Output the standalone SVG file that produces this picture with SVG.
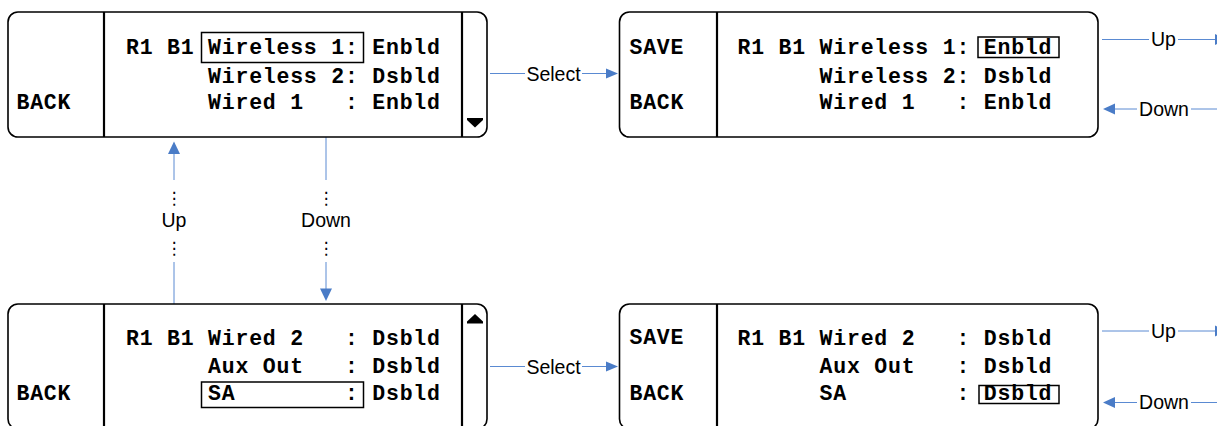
<svg xmlns="http://www.w3.org/2000/svg" width="1217" height="426" viewBox="0 0 1217 426" xml:space="preserve">
<style>
.box{fill:#fff;stroke:#000;stroke-width:1.6}
.div{stroke:#000;stroke-width:2.2}
.mono{font-family:"Courier New","Liberation Mono",monospace;font-weight:bold;font-size:21.5px;letter-spacing:0.78px;fill:#000;white-space:pre}
.hl{fill:none;stroke:#000;stroke-width:1.5}
.ln{stroke:#5a8ad2;stroke-width:1;fill:none}
.hd{fill:#4a7cc7}
.lbl{font-family:"Liberation Sans",Arial,sans-serif;font-size:19.5px;fill:#000;text-anchor:middle}
.dots{font-family:"DejaVu Sans",sans-serif;font-size:17px;fill:#000;text-anchor:middle}
.bg{fill:#fff}
</style>

<g id="connectors">
  <!-- Select top -->
  <line class="ln" x1="490" y1="73.5" x2="606" y2="73.5"/>
  <polygon class="hd" points="606,68.5 618,73.5 606,78.5"/>
  <rect class="bg" x="525" y="62" width="57" height="22"/>
  <text class="lbl" x="553.5" y="80.5">Select</text>
  <!-- Select bottom -->
  <line class="ln" x1="490" y1="366.5" x2="606" y2="366.5"/>
  <polygon class="hd" points="606,361.5 618,366.5 606,371.5"/>
  <rect class="bg" x="525" y="355" width="57" height="22"/>
  <text class="lbl" x="553.5" y="373.5">Select</text>
  <!-- Up vertical -->
  <line class="ln" x1="174" y1="304" x2="174" y2="262"/>
  <line class="ln" x1="174" y1="180" x2="174" y2="153"/>
  <polygon class="hd" points="174,141.5 168,154 180,154"/>
  <text class="dots" x="174" y="204">⋮</text>
  <text class="lbl" x="174" y="227">Up</text>
  <text class="dots" x="174" y="254">⋮</text>
  <!-- Down vertical -->
  <line class="ln" x1="326" y1="137" x2="326" y2="180"/>
  <line class="ln" x1="326" y1="262" x2="326" y2="289"/>
  <polygon class="hd" points="320,288.5 332,288.5 326,301"/>
  <text class="dots" x="326" y="204">⋮</text>
  <text class="lbl" x="326" y="227">Down</text>
  <text class="dots" x="326" y="254">⋮</text>
  <!-- Right top Up/Down -->
  <line class="ln" x1="1102" y1="39.5" x2="1217" y2="39.5"/>
  <polygon class="hd" points="1215,34 1227,39.5 1215,45"/>
  <rect class="bg" x="1149" y="29" width="29" height="22"/>
  <text class="lbl" x="1163.5" y="46">Up</text>
  <line class="ln" x1="1115" y1="109" x2="1217" y2="109"/>
  <polygon class="hd" points="1115,103.5 1103,109 1115,114.5"/>
  <rect class="bg" x="1137" y="98" width="54" height="22"/>
  <text class="lbl" x="1164" y="115.5">Down</text>
  <!-- Right bottom Up/Down -->
  <line class="ln" x1="1102" y1="331" x2="1217" y2="331"/>
  <polygon class="hd" points="1215,325.5 1227,331 1215,336.5"/>
  <rect class="bg" x="1149" y="320" width="29" height="22"/>
  <text class="lbl" x="1163.5" y="337.5">Up</text>
  <line class="ln" x1="1115" y1="402.5" x2="1217" y2="402.5"/>
  <polygon class="hd" points="1115,397 1103,402.5 1115,408"/>
  <rect class="bg" x="1137" y="391" width="54" height="22"/>
  <text class="lbl" x="1164" y="409">Down</text>
</g>

<g id="screen1">
  <rect class="box" x="8" y="12" width="479" height="125" rx="10"/>
  <line class="div" x1="104" y1="12" x2="104" y2="137"/>
  <line class="div" x1="462" y1="12" x2="462" y2="137"/>
  <text class="mono" x="16.5" y="109.3">BACK</text>
  <text class="mono" x="126" y="54.3">R1 B1 Wireless 1: Enbld</text>
  <text class="mono" x="126" y="82.7">      Wireless 2: Dsbld</text>
  <text class="mono" x="126" y="109.3">      Wired 1   : Enbld</text>
  <rect class="hl" x="201.5" y="32.5" width="162" height="30"/>
  <polygon points="467,118 483,118 483,120 475,127.5 467,120" fill="#000"/>
</g>

<g id="screen2">
  <rect class="box" x="619.5" y="12" width="478.5" height="125" rx="10"/>
  <line class="div" x1="717" y1="12" x2="717" y2="137"/>
  <text class="mono" x="629.5" y="54.3">SAVE</text>
  <text class="mono" x="629.5" y="109.3">BACK</text>
  <text class="mono" x="737.5" y="54.3">R1 B1 Wireless 1: Enbld</text>
  <text class="mono" x="737.5" y="82.7">      Wireless 2: Dsbld</text>
  <text class="mono" x="737.5" y="109.3">      Wired 1   : Enbld</text>
  <rect class="hl" x="978" y="37" width="81" height="20.5"/>
</g>

<g id="screen3">
  <rect class="box" x="8" y="304" width="479" height="125" rx="10"/>
  <line class="div" x1="104" y1="304" x2="104" y2="429"/>
  <line class="div" x1="462" y1="304" x2="462" y2="429"/>
  <text class="mono" x="16.5" y="400">BACK</text>
  <text class="mono" x="126" y="345">R1 B1 Wired 2   : Dsbld</text>
  <text class="mono" x="126" y="372.7">      Aux Out   : Dsbld</text>
  <text class="mono" x="126" y="400">      SA        : Dsbld</text>
  <rect class="hl" x="201.5" y="382" width="162" height="25.5"/>
  <polygon points="467,323.5 483,323.5 483,321.5 475,314 467,321.5" fill="#000"/>
</g>

<g id="screen4">
  <rect class="box" x="619.5" y="304" width="478.5" height="125" rx="10"/>
  <line class="div" x1="717" y1="304" x2="717" y2="429"/>
  <text class="mono" x="629.5" y="344">SAVE</text>
  <text class="mono" x="629.5" y="400">BACK</text>
  <text class="mono" x="737.5" y="345">R1 B1 Wired 2   : Dsbld</text>
  <text class="mono" x="737.5" y="372.7">      Aux Out   : Dsbld</text>
  <text class="mono" x="737.5" y="400">      SA        : Dsbld</text>
  <rect class="hl" x="979" y="385.5" width="80" height="18"/>
</g>
</svg>
